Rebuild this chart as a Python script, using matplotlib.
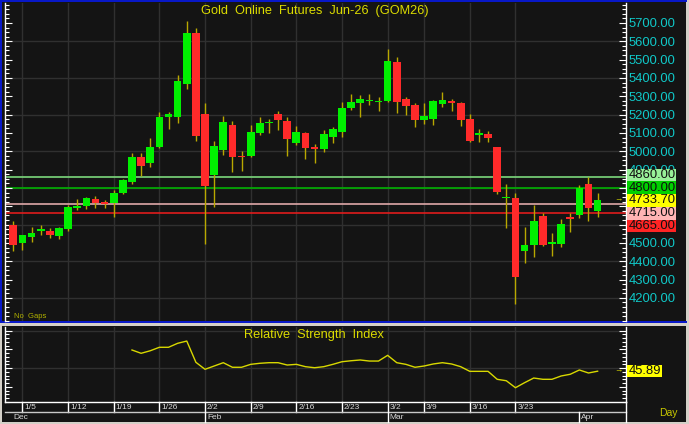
import numpy as np
import matplotlib
matplotlib.use('Agg')
import matplotlib.pyplot as plt
import matplotlib.transforms as mtransforms
from matplotlib.patches import Rectangle
from matplotlib.lines import Line2D
from matplotlib.ticker import FixedLocator, MultipleLocator, FuncFormatter

plt.rcParams['font.family'] = ['Liberation Sans', 'DejaVu Sans']

# daily OHLC, Jun-26 gold
opens = [4598, 4500, 4531, 4565, 4565, 4536, 4574, 4689, 4702, 4738,
         4723, 4718, 4771, 4834, 4967, 4934, 5023, 5189, 5189, 5369,
         5647, 5202, 4871, 5007, 5142, 4976, 4974, 5101, 5153, 5202,
         5167, 5047, 5098, 5025, 5011, 5080, 5107, 5238, 5265, 5273,
         5269, 5274, 5487, 5284, 5253, 5171, 5175, 5258, 5273, 5262,
         5176, 5089, 5093, 5022, 4743, 4747, 4458, 4489, 4649, 4496,
         4496, 4640, 4651, 4820, 4674]
highs = [4620, 4545, 4585, 4599, 4581, 4587, 4707, 4738, 4752, 4756,
         4734, 4789, 4847, 4992, 4989, 5074, 5214, 5213, 5416, 5712,
         5673, 5262, 5058, 5193, 5167, 5003, 5143, 5189, 5178, 5220,
         5185, 5138, 5107, 5040, 5116, 5134, 5271, 5311, 5307, 5311,
         5295, 5556, 5513, 5298, 5262, 5262, 5280, 5323, 5284, 5267,
         5203, 5122, 5112, 5025, 4820, 4774, 4589, 4707, 4662, 4553,
         4629, 4665, 4816, 4861, 4771]
lows = [4456, 4461, 4507, 4545, 4525, 4520, 4565, 4680, 4685, 4689,
        4689, 4643, 4765, 4820, 4865, 4913, 5018, 5120, 5153, 5341,
        5058, 4496, 4698, 4978, 4885, 4894, 4969, 5089, 5098, 5116,
        4974, 5034, 4956, 4934, 4998, 5047, 5080, 5225, 5189, 5253,
        5220, 5269, 5207, 5198, 5134, 5149, 5143, 5240, 5221, 5138,
        5049, 5052, 5052, 4765, 4580, 4167, 4392, 4422, 4483, 4429,
        4479, 4561, 4638, 4620, 4643]
closes = [4490, 4543, 4554, 4574, 4542, 4580, 4698, 4703, 4744, 4716,
          4711, 4774, 4843, 4967, 4921, 5023, 5187, 5202, 5382, 5647,
          5083, 4812, 5029, 5161, 4970, 4967, 5107, 5153, 5161, 5171,
          5069, 5107, 5020, 5012, 5093, 5122, 5238, 5267, 5285, 5281,
          5274, 5493, 5269, 5247, 5171, 5193, 5273, 5280, 5265, 5171,
          5058, 5093, 5071, 4780, 4749, 4313, 4489, 4620, 4489, 4505,
          4603, 4631, 4801, 4689, 4733.7]

# 14-day RSI, starts at bar 13
rsi_vals = [74.1, 69.7, 73.1, 77.7, 77.7, 83.0, 86.0, 57.7, 48.4, 52.8,
            57.2, 51.1, 51.1, 55.0, 56.4, 57.2, 57.2, 54.1, 55.0, 51.9,
            50.5, 51.9, 55.0, 58.5, 59.8, 60.8, 59.4, 59.4, 67.0, 57.2,
            55.0, 51.1, 52.8, 55.5, 57.2, 55.5, 51.9, 45.7, 45.7, 45.7,
            35.1, 33.2, 23.9, 30.6, 36.8, 35.1, 35.1, 39.5, 41.8, 47.5,
            43.5, 45.89]
rsi_start = 13

week_idx = [1, 6, 11, 16, 21, 26, 31, 36, 41, 45, 50, 55]
week_lbl = ['1/5', '1/12', '1/19', '1/26', '2/2', '2/9', '2/16', '2/23',
            '3/2', '3/9', '3/16', '3/23']
month_idx = [0, 21, 41, 62]
month_lbl = ['Dec', 'Feb', 'Mar', 'Apr']

level_vals = [4860, 4800, 4733.70, 4715, 4665]
level_txt = ['4860.00', '4800.00', '4733.70', '4715.00', '4665.00']
level_box = ['#98F098', '#00D000', '#FFFF00', '#FFB4B4', '#FF2424']
level_line = ['#7CD87C', '#00B000', None, '#E0A8A8', '#E01C1C']
hidden_ticks = [4600, 4700, 4800]   # covered by the value boxes
rsi_last = 45.89

W, H = 689, 424
BG = '#141414'
GRID = '#303030'
BLUE = '#0818C8'
CYAN = '#10C8C8'
YEL = '#DCDC00'
WICK = '#B8A800'
UP, DN = '#00F000', '#FF2A2A'

fig = plt.figure(figsize=(W / 100, H / 100), dpi=100, facecolor='#D4D0C8')


def box(x0, y0, x1, y1):
    return [x0 / W, 1 - y1 / H, (x1 - x0) / W, (y1 - y0) / H]


def frect(x0, y0, x1, y1, color, z=-2):
    l, b, w, h = box(x0, y0, x1, y1)
    fig.add_artist(Rectangle((l, b), w, h, transform=fig.transFigure,
                             facecolor=color, edgecolor='none', zorder=z))


frect(2, 2, 686, 321, BG)
frect(2, 326, 686, 422, BG)
frect(0, 0, 687, 2.2, BLUE, -1)
frect(0, 0, 2, 323, BLUE, -1)
frect(0, 321, 687, 323.3, BLUE, -1)

n = len(closes)
idx = np.arange(n)
xmin = -0.964
xmax = xmin + 621 / 9.13

# ------------------------------------------------------------ price panel
ax = fig.add_axes(box(4.5, 3, 625.5, 321))
ax.set_facecolor(BG)
ax.set_xlim(xmin, xmax)
ax.set_ylim(4074, 5809)
for v in range(4200, 5601, 200):
    ax.axhline(v, color=GRID, lw=1, zorder=0)
for i in week_idx:
    ax.axvline(i, color=GRID, lw=1, zorder=0)

o, h, l, c = map(np.array, (opens, highs, lows, closes))
cols = [UP if cc >= oo else DN for oo, cc in zip(o, c)]
ax.vlines(idx, l, h, color=WICK, lw=1, zorder=2)
ax.bar(idx, np.maximum(np.abs(c - o), 8), 0.84, bottom=np.minimum(o, c),
       color=cols, linewidth=0, zorder=3)

for v, lc in zip(level_vals, level_line):
    if lc:
        ax.axhline(v, color=lc, lw=1.2, zorder=1.5)

ax.yaxis.tick_right()
ax.yaxis.set_major_locator(FixedLocator(range(4200, 5701, 100)))
ax.yaxis.set_minor_locator(MultipleLocator(25))
ax.yaxis.set_major_formatter(FuncFormatter(
    lambda v, p: '' if round(v) in hidden_ticks else f'{v:.2f}'))
ax.tick_params(axis='y', which='both', direction='in', color='white',
               labelcolor=CYAN, labelsize=9.4, left=True, right=True,
               labelleft=False, labelright=True, width=0.8, pad=2)
ax.tick_params(axis='y', which='major', length=5)
ax.tick_params(axis='y', which='minor', length=3)
ax.set_xticks([])
for s in ('top', 'bottom'):
    ax.spines[s].set_visible(False)
for s in ('left', 'right'):
    ax.spines[s].set_color('white')
    ax.spines[s].set_linewidth(1)

# stacked value boxes on the price scale
trb = mtransforms.blended_transform_factory(ax.transAxes, ax.transData)
step = 69.6
bx0, bx1 = (627 - 4.5) / 621, (676 - 4.5) / 621
prev = None
for v, t, fc in zip(level_vals, level_txt, level_box):
    pos = v + 11 if prev is None else min(v + 11, prev - step)
    prev = pos
    ax.add_patch(Rectangle((bx0, pos - step / 2), bx1 - bx0, step,
                           transform=trb, facecolor=fc, edgecolor='none',
                           clip_on=False, zorder=6))
    ax.text(bx0 + 0.002, pos, t, transform=trb, fontsize=9.4, color='#101010',
            va='center', ha='left', clip_on=False, zorder=7)
ax.text((618 - 4.5) / 621, closes[-1], '→', transform=trb, fontsize=6,
        color=YEL, ha='center', va='center', clip_on=False, zorder=7)

# ------------------------------------------------------------ RSI panel
rax = fig.add_axes(box(4.5, 327, 625.5, 402.3))
rax.set_facecolor(BG)
rax.set_xlim(xmin, xmax)
rax.set_ylim(4.5, 104.7)
for v in (50, 100):
    rax.axhline(v, color=GRID, lw=1, zorder=0)
for i in week_idx:
    rax.axvline(i, color=GRID, lw=1, zorder=0)
rax.plot(idx[rsi_start:], rsi_vals, color='#D8D800', lw=1, zorder=3)

rax.yaxis.set_major_locator(MultipleLocator(25))
rax.yaxis.set_minor_locator(MultipleLocator(5))
rax.tick_params(axis='y', which='both', direction='in', color='white',
                left=True, right=True, labelleft=False, labelright=False,
                width=0.8)
rax.tick_params(axis='y', which='major', length=5)
rax.tick_params(axis='y', which='minor', length=3)
rax.set_xticks([])
rax.spines['top'].set_visible(False)
for s in ('left', 'right', 'bottom'):
    rax.spines[s].set_color('white')
    rax.spines[s].set_linewidth(1)

rtrb = mtransforms.blended_transform_factory(rax.transAxes, rax.transData)
rbox_h = 16.4
rx1 = (661.7 - 4.5) / 621
rax.add_patch(Rectangle((bx0, rsi_last - rbox_h / 2), rx1 - bx0, rbox_h,
                        transform=rtrb, facecolor='#FFFF00', edgecolor='none',
                        clip_on=False, zorder=6))
rax.text(bx0 + 0.002, rsi_last, f'{rsi_last:.2f}', transform=rtrb,
         fontsize=9.4, color='#101010', va='center', ha='left',
         clip_on=False, zorder=7)
rax.text((618 - 4.5) / 621, rsi_last, '→', transform=rtrb, fontsize=6,
         color=YEL, ha='center', va='center', clip_on=False, zorder=7)

# date strip under the RSI panel
ph = 402.3 - 327
y1 = (402.3 - 412) / ph
y2 = (402.3 - 422) / ph
dtr = mtransforms.blended_transform_factory(rax.transData, rax.transAxes)
dtr_off = mtransforms.offset_copy(dtr, fig=fig, x=2, y=0, units='dots')
for i, t in zip(week_idx, week_lbl):
    rax.add_line(Line2D([i, i], [0, y1], transform=dtr, color='white',
                        lw=1, clip_on=False))
    rax.text(i, (402.3 - 407.5) / ph, t, transform=dtr_off, fontsize=6,
             color='#D8D8D8', ha='left', va='center', clip_on=False)
rax.add_line(Line2D([0, 1], [y1, y1], transform=rax.transAxes,
                    color='#C8C8C8', lw=1, clip_on=False))
rax.add_line(Line2D([1, 1], [y2, 0], transform=rax.transAxes,
                    color='white', lw=1, clip_on=False))
for i, t in zip(month_idx, month_lbl):
    if i > 0:
        rax.add_line(Line2D([i, i], [y1, y2], transform=dtr, color='white',
                            lw=1, clip_on=False))
        tt = dtr_off
    else:
        tt = dtr
    rax.text(i, (402.3 - 417.3) / ph, t, transform=tt, fontsize=6,
             color='#D8D8D8', ha='left', va='center', clip_on=False)

# ------------------------------------------------------------ texts
fig.text(315 / W, 1 - 11 / H, 'Gold  Online  Futures  Jun-26  (GOM26)',
         fontsize=9.2, color=YEL, ha='center', va='center')
fig.text(314 / W, 1 - 335 / H, 'Relative  Strength  Index',
         fontsize=9.2, color=YEL, ha='center', va='center')
fig.text(13.5 / W, 1 - 316.5 / H, 'No  Gaps', fontsize=5.5, color='#B0B000',
         ha='left', va='center')
fig.text(668.5 / W, 1 - 412.7 / H, 'Day', fontsize=7.5, color='#C8C800',
         ha='center', va='center')

fig.savefig('out.png', dpi=100, facecolor=fig.get_facecolor())
